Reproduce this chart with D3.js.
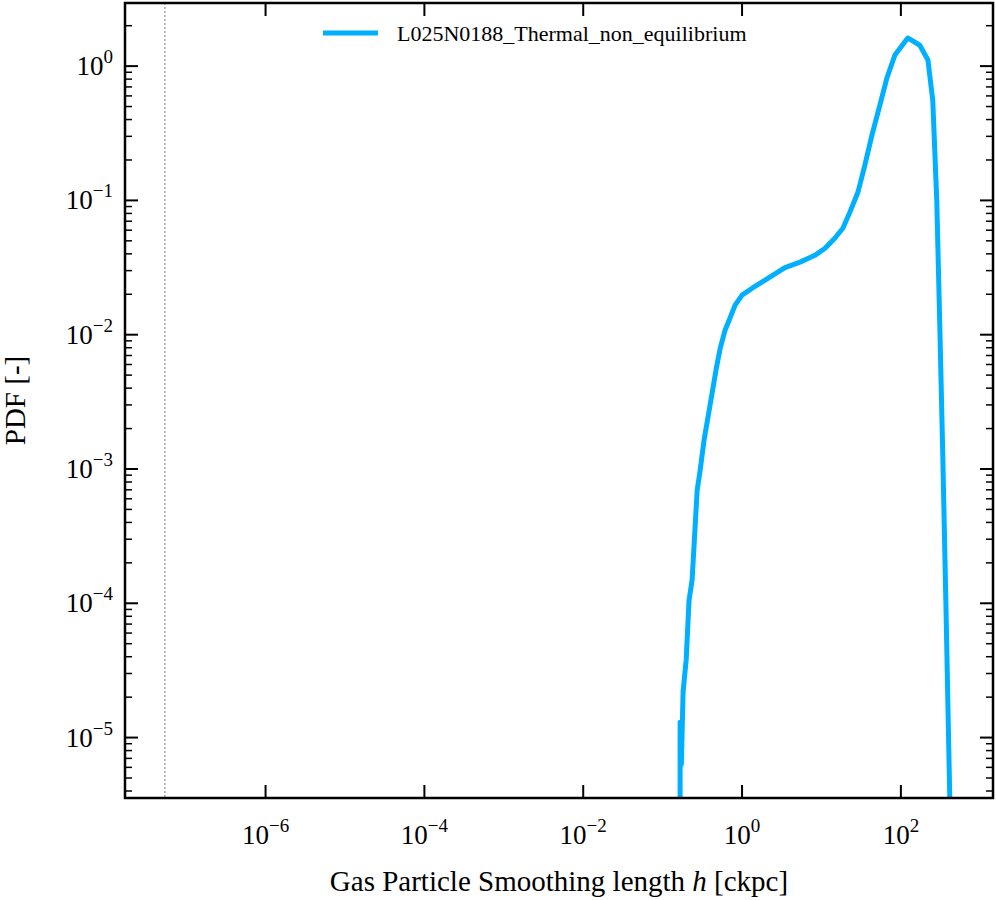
<!DOCTYPE html>
<html>
<head>
<meta charset="utf-8">
<script src="https://cdn.jsdelivr.net/npm/d3@7"></script>
<style>
  body { margin: 0; background: #fff; }
  text { font-family: "Liberation Serif", "DejaVu Serif", serif; }
</style>
</head>
<body>
<div class="chart"></div>
<script>
// smoothing length h [ckpc] and PDF values
let hValues = [0.166, 0.166, 0.172, 0.181, 0.198, 0.215, 0.235, 0.272, 0.296, 0.333, 0.396, 0.471, 0.528,
    0.611, 0.706, 0.817, 1.0, 1.34, 1.95, 3.47, 5.37, 8.28, 11.1, 14.8, 18.6, 22.8, 28.8, 35.2, 43.2,
    54.4, 66.6, 84.1, 122, 173, 219, 252, 283, 310, 336, 368, 390, 413];
let pdfValues = [3.5e-6, 1.3e-5, 6.3e-6, 2.2e-5, 3.8e-5, 1.05e-4, 1.49e-4, 6.9e-4, 9.7e-4, 1.65e-3, 3.0e-3,
    5.5e-3, 7.8e-3, 0.0108, 0.0133, 0.0166, 0.0197, 0.0222, 0.0255, 0.0316, 0.0347, 0.039, 0.044, 0.0525,
    0.062, 0.0818, 0.115, 0.183, 0.306, 0.512, 0.814, 1.21, 1.62, 1.43, 1.11, 0.558, 0.1, 0.0108, 1.38e-3,
    1.06e-4, 1.9e-5, 3.5e-6];
let xTicks = [1e-6, 1e-4, 1e-2, 1e0, 1e2];
let yTicks = [1e-5, 1e-4, 1e-3, 1e-2, 1e-1, 1e0];
let vLine = 5.4e-8;
let seriesName = "L025N0188_Thermal_non_equilibrium";

let margin = { top: 3, right: 3, bottom: 102, left: 125 };
let width = 996 - margin.left - margin.right;
let height = 900 - margin.top - margin.bottom;

let svg = d3.select(".chart").append("svg")
    .attr("width", 996).attr("height", 900)
    .append("g")
    .attr("transform", `translate(${margin.left}, ${margin.top})`);

let x = d3.scaleLog().domain([Math.pow(10, -7.77), Math.pow(10, 3.16)]).range([0, width]);
let y = d3.scaleLog().domain([Math.pow(10, -5.45), Math.pow(10, 0.47)]).range([height, 0]);

let sup = (v) => {
    let e = Math.round(Math.log10(v));
    return e < 0 ? "\u2212" + Math.abs(e) : "" + e;
};

// minor y ticks
let yMinor = [];
for (let e = -6; e <= 0; e++) for (let m = 2; m <= 9; m++) {
    let v = m * Math.pow(10, e);
    if (v > y.domain()[0] && v < y.domain()[1]) yMinor.push(v);
}

let tickG = svg.append("g").attr("stroke", "#000");
yMinor.forEach(v => {
    tickG.append("line").attr("x1", 0).attr("x2", 7).attr("y1", y(v)).attr("y2", y(v)).attr("stroke-width", 1.5);
    tickG.append("line").attr("x1", width).attr("x2", width - 7).attr("y1", y(v)).attr("y2", y(v)).attr("stroke-width", 1.5);
});
yTicks.forEach(v => {
    tickG.append("line").attr("x1", 0).attr("x2", 13).attr("y1", y(v)).attr("y2", y(v)).attr("stroke-width", 2);
    tickG.append("line").attr("x1", width).attr("x2", width - 13).attr("y1", y(v)).attr("y2", y(v)).attr("stroke-width", 2);
    let t = svg.append("text").attr("x", -12).attr("y", y(v) + 9).attr("text-anchor", "end")
        .attr("font-size", 27);
    t.append("tspan").text("10");
    t.append("tspan").attr("dy", -12).attr("font-size", 19).text(sup(v));
});
xTicks.forEach(v => {
    tickG.append("line").attr("x1", x(v)).attr("x2", x(v)).attr("y1", height).attr("y2", height - 13).attr("stroke-width", 2);
    tickG.append("line").attr("x1", x(v)).attr("x2", x(v)).attr("y1", 0).attr("y2", 13).attr("stroke-width", 2);
    let t = svg.append("text").attr("x", x(v)).attr("y", height + 46).attr("text-anchor", "middle")
        .attr("font-size", 27);
    t.append("tspan").text("10");
    t.append("tspan").attr("dy", -12).attr("font-size", 19).text(sup(v));
});

// dashed reference line
svg.append("line")
    .attr("x1", x(vLine)).attr("x2", x(vLine)).attr("y1", 0).attr("y2", height)
    .attr("stroke", "#555").attr("stroke-width", 0.8).attr("stroke-dasharray", "2,2");

svg.append("clipPath").attr("id", "clip").append("rect").attr("width", width).attr("height", height);

let data = hValues.map((h, i) => [h, pdfValues[i]]);
svg.append("path")
    .datum(data)
    .attr("clip-path", "url(#clip)")
    .attr("fill", "none")
    .attr("stroke", "#00b0ff")
    .attr("stroke-width", 5)
    .attr("stroke-linejoin", "round")
    .attr("d", d3.line().x(d => x(d[0])).y(d => y(d[1])));

svg.append("rect").attr("width", width).attr("height", height)
    .attr("fill", "none").attr("stroke", "#000").attr("stroke-width", 2.5);

// legend
svg.append("line").attr("x1", 198).attr("x2", 253).attr("y1", 30).attr("y2", 30)
    .attr("stroke", "#00b0ff").attr("stroke-width", 5);
svg.append("text").attr("x", 272).attr("y", 38).attr("font-size", 22).text(seriesName);

// axis labels
let xl = svg.append("text").attr("x", width / 2).attr("y", height + 93).attr("text-anchor", "middle")
    .attr("font-size", 29);
xl.append("tspan").text("Gas Particle Smoothing length ");
xl.append("tspan").attr("font-style", "italic").text("h");
xl.append("tspan").text(" [ckpc]");

svg.append("text").attr("transform", `translate(-100, ${height / 2}) rotate(-90)`)
    .attr("text-anchor", "middle").attr("font-size", 29).text("PDF [-]");
</script>
</body>
</html>
